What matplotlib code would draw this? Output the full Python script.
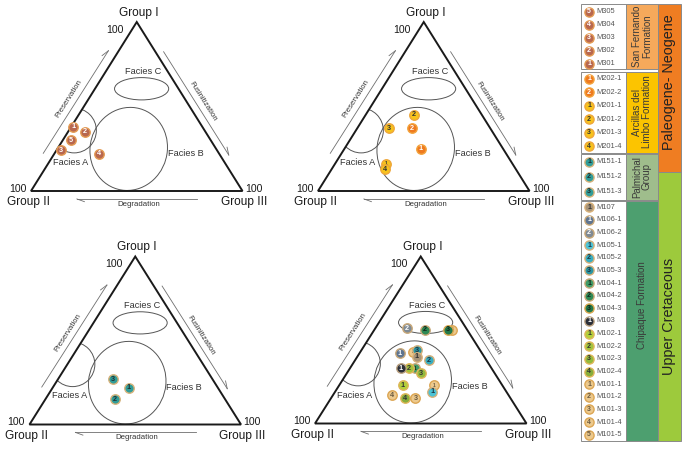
import numpy as np
import matplotlib
matplotlib.use('Agg')
import matplotlib.pyplot as plt
from matplotlib.patches import Ellipse, Polygon, Rectangle

plt.rcParams['font.family'] = ['Liberation Sans', 'DejaVu Sans']

# ---------------- data (Group I, Group II, Group III percentages) ----------------
sf_samples = ['M301', 'M302', 'M303', 'M304', 'M305']
sf_nums = ['1', '2', '3', '4', '5']
sf_g1 = [38, 35, 24, 22, 30]
sf_g2 = [61, 57, 74, 57, 66]
sf_g3 = [1, 8, 2, 21, 4]

al_samples = ['M202-1', 'M202-2', 'M201-1', 'M201-2', 'M201-3', 'M201-4']
al_nums = ['1', '2', '1', '2', '3', '4']
al_g1 = [25, 37, 16, 45, 37, 13]
al_g2 = [39, 37, 60, 32, 48, 62]
al_g3 = [36, 26, 24, 23, 15, 25]

pg_samples = ['M151-1', 'M151-2', 'M151-3']
pg_nums = ['1', '2', '3']
pg_g1 = [22, 15, 27]
pg_g2 = [42, 52, 47]
pg_g3 = [36, 33, 26]

# Chipaque (drawing order)
ch_samples = ['M101-5', 'M104-3', 'M104-2', 'M106-2', 'M106-1', 'M101-2', 'M105-3', 'M107',
              'M105-2', 'M104-1', 'M102-2', 'M103', 'M102-3', 'M102-1', 'M101-4', 'M102-4',
              'M101-3', 'M101-1', 'M105-1']
ch_nums = ['5', '3', '2', '2', '1', '2', '3', '1', '2', '1', '2', '1', '3', '1', '4', '4', '3', '1', '1']
ch_g1 = [56, 56, 56, 57, 42, 43, 44, 40, 38, 33, 33, 33, 30, 23, 17, 15, 15, 23, 19]
ch_g2 = [7, 9, 20, 28, 39, 32, 30, 32, 27, 36, 39, 43, 35, 47, 55, 50, 45, 32, 35]
ch_g3 = [37, 35, 24, 15, 19, 25, 26, 28, 35, 31, 28, 24, 35, 30, 28, 35, 40, 45, 46]

# legend
leg_sf = ['M305', 'M304', 'M303', 'M302', 'M301']
leg_sf_nums = ['5', '4', '3', '2', '1']
leg_al = ['M202-1', 'M202-2', 'M201-1', 'M201-2', 'M201-3', 'M201-4']
leg_al_nums = ['1', '2', '1', '2', '3', '4']
leg_pg = ['M151-1', 'M151-2', 'M151-3']
leg_pg_nums = ['1', '2', '3']
leg_ch = ['M107', 'M106-1', 'M106-2', 'M105-1', 'M105-2', 'M105-3', 'M104-1', 'M104-2',
          'M104-3', 'M103', 'M102-1', 'M102-2', 'M102-3', 'M102-4', 'M101-1', 'M101-2',
          'M101-3', 'M101-4', 'M101-5']
leg_ch_nums = ['1', '1', '2', '1', '2', '3', '1', '2', '3', '1', '1', '2', '3', '4', '1', '2', '3', '4', '5']

formations = ['San Fernando\nFormation', 'Arcillas del\nLimbo Formation', 'Palmichal\nGroup',
              'Chipaque Formation']
eras = ['Paleogene- Neogene', 'Upper Cretaceous']

# samples mostly hidden behind another marker (digit drawn smaller)
hidden = ['M101-5', 'M101-2', 'M101-1', 'M201-1', 'M104-1']


# ---------------- styles ----------------
def style(name):
    # returns fill, ring, digit colour
    if name.startswith('M30'):
        return '#b8674f', '#e39a52', 'white'
    if name.startswith('M202'):
        return '#ee7a1f', '#f3a33c', 'white'
    if name.startswith('M201'):
        return '#f7c31c', '#eea63a', '#333333'
    if name.startswith('M151'):
        return '#2f9c98', '#d6b27a', '#1f2f2f'
    table = {
        'M107': ('#a89478', '#d9b27a', '#333333'),
        'M106-1': ('#5f7590', '#c9a878', 'white'),
        'M106-2': ('#7f8a94', '#c9a878', 'white'),
        'M105-1': ('#4cc3d6', '#d6b07a', '#1f3540'),
        'M105-2': ('#36adc0', '#d6b07a', '#1f3540'),
        'M105-3': ('#2a96a3', '#d6b07a', '#1f3540'),
        'M104-1': ('#3f9a66', '#c9a878', '#10251a'),
        'M104-2': ('#2e8954', '#c9a878', '#10251a'),
        'M104-3': ('#23794a', '#d9a850', '#10251a'),
        'M103': ('#2c3039', '#b9a080', 'white'),
    }
    if name in table:
        return table[name]
    if name.startswith('M102'):
        shade = {'1': '#b3cf3b', '2': '#a2c43c', '3': '#93ba3b', '4': '#86ad3a'}[name[-1]]
        return shade, '#e0b65a', '#333333'
    return '#ecc98d', '#dca654', '#6a5a40'   # M101


W, H = 6.85, 4.49
DPI = 100
fig = plt.figure(figsize=(W, H), dpi=DPI)
fig.patch.set_facecolor('white')

# pixel layout of the triangles (bottom-left corner, width, height)
panels = [((31, 191), 211.5, 169),
          ((318, 191), 211.5, 169),
          ((29.5, 424.5), 211.5, 168),
          ((315, 423.5), 211.5, 167)]
FIGW, FIGH = 685, 449


def tern(g1, g2, g3):
    g1 = np.asarray(g1, float); g2 = np.asarray(g2, float); g3 = np.asarray(g3, float)
    t = g1 + g2 + g3
    a = g1 / t
    c = g3 / t
    return c + a / 2.0, a


def harpoon(ax, p0, p1, wpx, hpx, side_len=8.0, ang=20):
    ax.plot([p0[0], p1[0]], [p0[1], p1[1]], color='#6e6e6e', lw=0.6, clip_on=False)
    d = np.array([(p1[0] - p0[0]) * wpx, (p1[1] - p0[1]) * hpx])
    u = d / np.linalg.norm(d)
    back = -u
    nl = np.array([-u[1], u[0]])
    th = np.radians(ang)
    e = back * side_len * np.cos(th) + nl * side_len * np.sin(th)
    ax.plot([p1[0], p1[0] + e[0] / wpx], [p1[1], p1[1] + e[1] / hpx], color='#6e6e6e',
            lw=0.6, clip_on=False)
    return np.degrees(np.arctan2(d[1], d[0]))


def draw_marker(ax, x, y, name, num, z, ms=6.8, fs=5.2, small=False):
    f, r, tc = style(name)
    ax.plot([x], [y], 'o', ms=ms, mfc=f, mec=r, mew=1.0, zorder=z, clip_on=False)
    ax.text(x, y, num, ha='center', va='center', fontsize=(3.4 if small else fs), color=tc,
            zorder=z + 0.5, fontweight='bold')


def ternary_panel(idx, samples, nums, g1, g2, g3):
    (bx, by), wpx, hpx = panels[idx]
    ax = fig.add_axes([bx / FIGW, 1 - by / FIGH, wpx / FIGW, hpx / FIGH])
    ax.set_xlim(0, 1)
    ax.set_ylim(0, 1)
    ax.axis('off')
    tri = Polygon([[0, 0], [1, 0], [0.5, 1]], closed=True, fill=False, ec='#1a1a1a', lw=1.4,
                  joinstyle='miter', zorder=5, clip_on=False)
    ax.add_patch(tri)
    clip_tri = Polygon([[0, 0], [1, 0], [0.5, 1]], closed=True, transform=ax.transData)
    # facies fields
    ax.add_patch(Ellipse((0.523, 0.605), 0.256, 0.132, fill=False, ec='#555555', lw=0.7))
    ax.add_patch(Ellipse((0.462, 0.249), 0.366, 0.492, angle=-4, fill=False, ec='#555555',
                         lw=0.7))
    ea = Ellipse((0.204, 0.358), 0.21, 0.265, fill=False, ec='#555555', lw=0.7)
    ax.add_patch(ea)
    ea.set_clip_path(clip_tri)
    ax.text(0.188, 0.17, 'Facies A', fontsize=6.6, color='#333333', ha='center', va='center')
    ax.text(0.73, 0.219, 'Facies B', fontsize=6.6, color='#333333', ha='center', va='center')
    ax.text(0.532, 0.706, 'Facies C', fontsize=6.6, color='#333333', ha='center', va='center')
    # corner labels
    ax.text(0.508, 1.055, 'Group I', fontsize=8.6, ha='center', va='center', color='#1a1a1a')
    ax.text(0.398, 0.953, '100', fontsize=7.6, ha='center', va='center', color='#1a1a1a')
    ax.text(-0.062, 0.012, '100', fontsize=7.6, ha='center', va='center', color='#1a1a1a')
    ax.text(-0.013, -0.066, 'Group II', fontsize=8.6, ha='center', va='center', color='#1a1a1a')
    ax.text(1.053, 0.012, '100', fontsize=7.6, ha='center', va='center', color='#1a1a1a')
    ax.text(1.006, -0.066, 'Group III', fontsize=8.6, ha='center', va='center', color='#1a1a1a')
    # process arrows
    r1 = harpoon(ax, (0.058, 0.223), (0.366, 0.830), wpx, hpx)
    ax.text(0.180, 0.548, 'Preservation', fontsize=5.6, rotation=r1, ha='center', va='center',
            color='#333333', rotation_mode='anchor')
    r2 = harpoon(ax, (0.627, 0.824), (0.935, 0.213), wpx, hpx)
    ax.text(0.812, 0.530, 'Fusinitization', fontsize=5.6, rotation=r2, ha='center', va='center',
            color='#333333', rotation_mode='anchor')
    harpoon(ax, (0.785, -0.047), (0.217, -0.047), wpx, hpx)
    ax.text(0.508, -0.080, 'Degradation', fontsize=5.6, ha='center', va='center', color='#333333')
    # samples
    xs, ys = tern(g1, g2, g3)
    for i, (x, y) in enumerate(zip(xs, ys)):
        draw_marker(ax, x, y, samples[i], nums[i], 10 + i, small=samples[i] in hidden)
    return ax


ternary_panel(0, sf_samples, sf_nums, sf_g1, sf_g2, sf_g3)
ternary_panel(1, al_samples, al_nums, al_g1, al_g2, al_g3)
ternary_panel(2, pg_samples, pg_nums, pg_g1, pg_g2, pg_g3)
ternary_panel(3, ch_samples, ch_nums, ch_g1, ch_g2, ch_g3)

# ---------------- stratigraphic legend ----------------
lax = fig.add_axes([570 / FIGW, 0, 115 / FIGW, 1])
lax.set_xlim(570, 685)
lax.set_ylim(449, 0)
lax.axis('off')

sx0, sx1 = 581, 626      # sample column
fx1 = 658                # formation column right edge
ex1 = 681                # era column right edge
boxes = [(4, 69), (71.5, 152.5), (154, 199.5), (201, 441)]
fcols = ['#f6a95b', '#fcc400', '#9fbd8c', '#4d9f6f']
leg_lists = [(leg_sf, leg_sf_nums), (leg_al, leg_al_nums), (leg_pg, leg_pg_nums),
             (leg_ch, leg_ch_nums)]
row_offsets = [1.0, 0.3, 0.0, 0.0]
for k, ((t0, t1), fc) in enumerate(zip(boxes, fcols)):
    lax.add_patch(Rectangle((sx0, t0), sx1 - sx0, t1 - t0, fc='white', ec='#8a8a8a', lw=0.7))
    lax.add_patch(Rectangle((sx1, t0), fx1 - sx1, t1 - t0, fc=fc, ec='#8a8a8a', lw=0.7))
    names, nums = leg_lists[k]
    n = len(names)
    step = (t1 - t0) / n
    for i, (nm, nu) in enumerate(zip(names, nums)):
        yy = t0 + (i + 0.5) * step + row_offsets[k]
        draw_marker(lax, 589, yy, nm, nu, 10 + i, ms=6.6, fs=5.0)
        lax.text(596.5, yy, nm, fontsize=5.4, color='#555555', ha='left', va='center')
    lax.text((sx1 + fx1) / 2, (t0 + t1) / 2 if k != 3 else 305, formations[k], rotation=90,
             ha='center', va='center', fontsize=7.0, color='#3a3a3a', linespacing=1.0,
             multialignment='center')

# eras
lax.add_patch(Rectangle((fx1, 4), ex1 - fx1, 172 - 4, fc='#ef7d22', ec='#8a8a8a', lw=0.7))
lax.add_patch(Rectangle((fx1, 172), ex1 - fx1, 441 - 172, fc='#9dca3c', ec='#8a8a8a', lw=0.7))
lax.text((fx1 + ex1) / 2, 82, eras[0], rotation=90, ha='center', va='center', fontsize=10.4,
         color='#222222')
lax.text((fx1 + ex1) / 2, 316, eras[1], rotation=90, ha='center', va='center', fontsize=10.4,
         color='#222222')

fig.savefig('out.png', dpi=DPI, facecolor='white')
